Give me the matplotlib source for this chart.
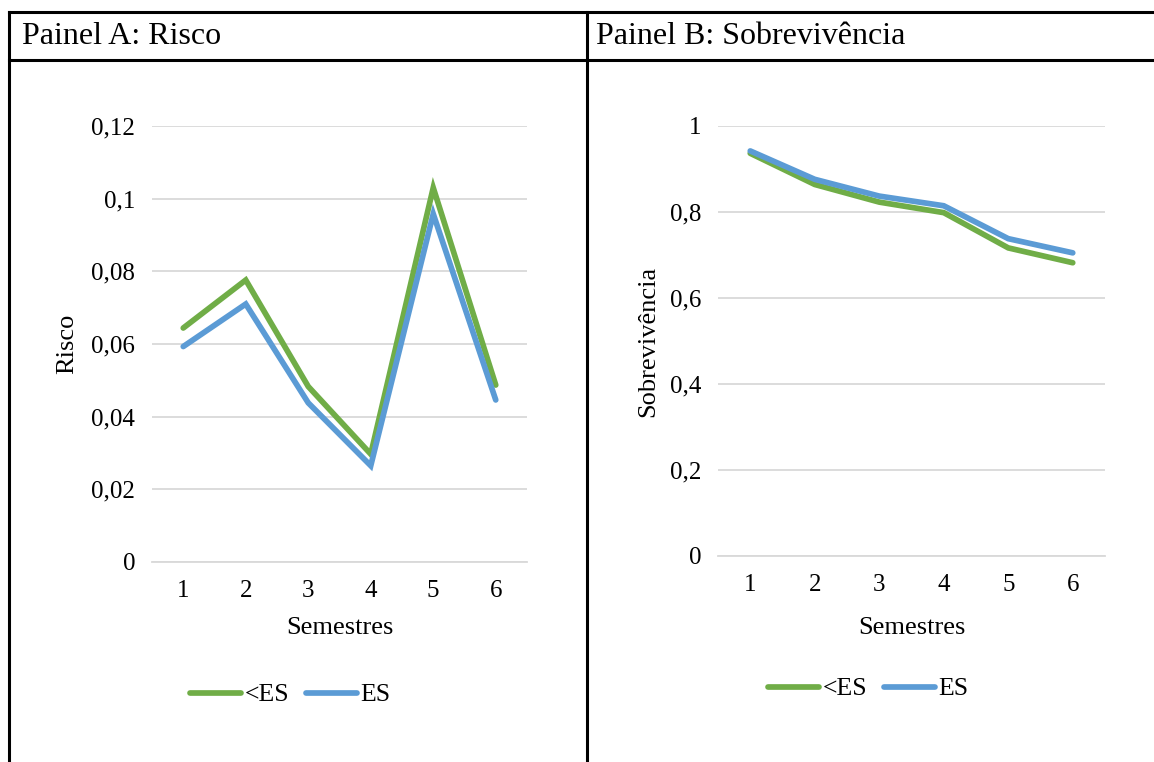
import matplotlib
matplotlib.use("Agg")
import matplotlib.pyplot as plt
from matplotlib.lines import Line2D
from matplotlib.ticker import FuncFormatter

semestres = [1, 2, 3, 4, 5, 6]
risco_menor_es = [0.0644, 0.0776, 0.0483, 0.0297, 0.1030, 0.0487]
risco_es = [0.0593, 0.0710, 0.0438, 0.0265, 0.0958, 0.0446]
sobrev_menor_es = [0.9365, 0.8640, 0.8230, 0.7985, 0.7165, 0.6820]
sobrev_es = [0.9420, 0.8760, 0.8370, 0.8145, 0.7380, 0.7050]
series_labels = ["<ES", "ES"]
panel_titles = ["Painel A: Risco", "Painel B: Sobrevivência"]
y_labels = ["Risco", "Sobrevivência"]
x_label = "Semestres"

GREEN = "#70AD47"
BLUE = "#5B9BD5"
GRID = "#D9D9D9"
TXT = "#000000"

W, H = 1154, 762
fig = plt.figure(figsize=(W / 100, H / 100), dpi=100)
plt.rcParams["font.family"] = ["Liberation Serif", "DejaVu Serif"]

def fx(px):
    return px / W

def fy(py):
    return 1 - py / H

# table borders
for (x0, y0, x1, y1) in [(9, 12, W + 5, 12), (9, 60, W + 5, 60), (9, 12, 9, H + 5), (587, 12, 587, H + 5)]:
    fig.add_artist(Line2D([fx(x0), fx(x1)], [fy(y0), fy(y1)], transform=fig.transFigure,
                          color="black", lw=2.2, solid_capstyle="projecting"))

fig.text(fx(22), fy(43.5), panel_titles[0], fontsize=23, va="baseline", ha="left", color=TXT)
fig.text(fx(596), fy(43.5), panel_titles[1], fontsize=23, va="baseline", ha="left", color=TXT)

def comma(v, pos):
    s = ("%.2f" % v).rstrip("0").rstrip(".")
    return s.replace(".", ",")

def make_panel(left, right, top, bottom, ydata, ylim, yticks, ylabel, ylab_x, leg_x, leg_y):
    ax = fig.add_axes([fx(left), fy(bottom), fx(right) - fx(left), fy(top) - fy(bottom)])
    ax.plot(semestres, ydata[0], color=GREEN, lw=4.1, solid_capstyle="round", solid_joinstyle="miter", label=series_labels[0], zorder=3)
    ax.plot(semestres, ydata[1], color=BLUE, lw=4.1, solid_capstyle="round", solid_joinstyle="miter", label=series_labels[1], zorder=4)
    ax.set_xlim(0.5, 6.5)
    ax.set_ylim(*ylim)
    ax.set_yticks(yticks)
    ax.set_xticks(semestres)
    ax.yaxis.set_major_formatter(FuncFormatter(comma))
    ax.grid(axis="y", color=GRID, lw=1.3)
    ax.set_axisbelow(True)
    for s in ["top", "right", "left"]:
        ax.spines[s].set_visible(False)
    ax.spines["bottom"].set_color(GRID)
    ax.spines["bottom"].set_linewidth(1.3)
    ax.tick_params(axis="both", length=0, labelsize=18, colors=TXT)
    ax.tick_params(axis="y", pad=12)
    ax.tick_params(axis="x", pad=13)
    ax.set_ylabel(ylabel, fontsize=19, color=TXT)
    ax.yaxis.set_label_coords(fx(ylab_x), fy((top + bottom) / 2), transform=fig.transFigure)
    ax.set_xlabel(x_label, fontsize=19, color=TXT)
    ax.xaxis.set_label_coords(fx((left + right) / 2), fy(628), transform=fig.transFigure)
    ax.xaxis.label.set_va("center")
    ax.yaxis.label.set_va("center")
    ax.legend(loc="center", bbox_to_anchor=(fx(leg_x), fy(leg_y)), bbox_transform=fig.transFigure,
              ncol=2, frameon=False, fontsize=18.5, handlelength=2.0, handletextpad=0.12,
              columnspacing=0.65)
    return ax

make_panel(152, 527, 126, 562, [risco_menor_es, risco_es], (0, 0.12),
           [0, 0.02, 0.04, 0.06, 0.08, 0.10, 0.12], y_labels[0], 67, 290, 695)
make_panel(718, 1105, 126, 556, [sobrev_menor_es, sobrev_es], (0, 1),
           [0, 0.2, 0.4, 0.6, 0.8, 1.0], y_labels[1], 648, 868, 689)

fig.savefig("out.png", dpi=100)
